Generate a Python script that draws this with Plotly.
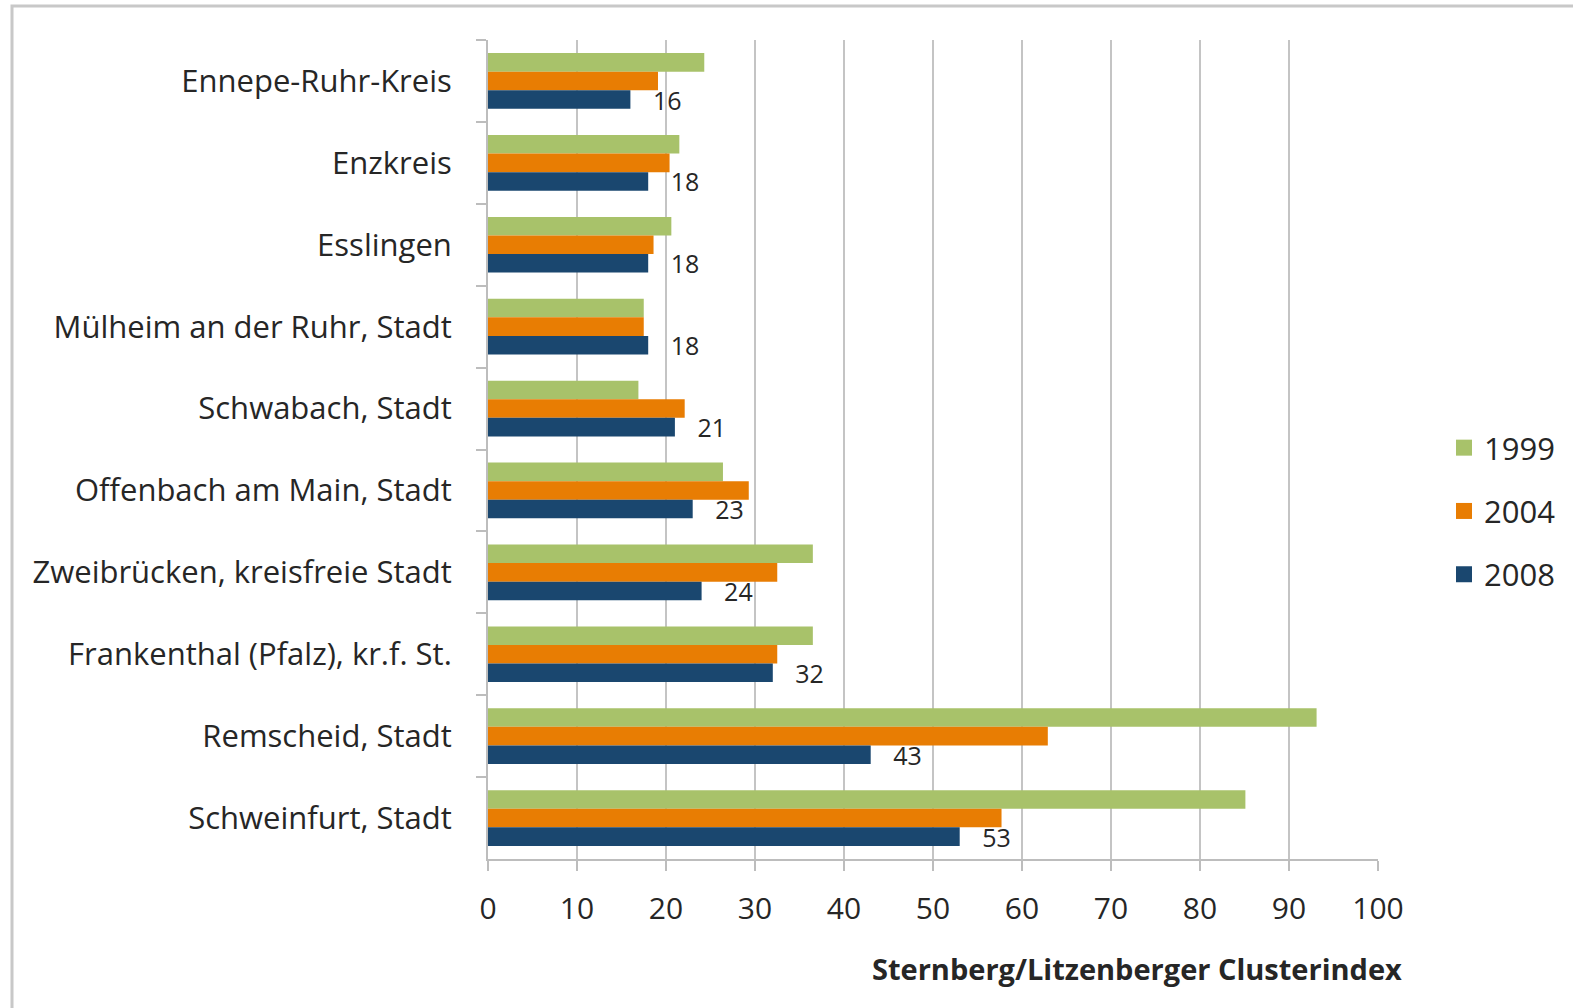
import plotly.graph_objects as go

# Regions (top to bottom) and Sternberg/Litzenberger cluster index per year
regions = [
    "Ennepe-Ruhr-Kreis",
    "Enzkreis",
    "Esslingen",
    "Mülheim an der Ruhr, Stadt",
    "Schwabach, Stadt",
    "Offenbach am Main, Stadt",
    "Zweibrücken, kreisfreie Stadt",
    "Frankenthal (Pfalz), kr.f. St.",
    "Remscheid, Stadt",
    "Schweinfurt, Stadt",
]
idx_1999 = [24.3, 21.5, 20.6, 17.5, 16.9, 26.4, 36.5, 36.5, 93.1, 85.1]
idx_2004 = [19.1, 20.4, 18.6, 17.5, 22.1, 29.3, 32.5, 32.5, 62.9, 57.7]
idx_2008 = [16, 18, 18, 18, 21, 23, 24, 32, 43, 53]

years = ["1999", "2004", "2008"]
colors = ["#A8C26A", "#E87D03", "#1A476F"]
x_ticks = list(range(0, 101, 10))

W, H = 1573, 1008
ML, MR, MT, MB = 488, 195, 40, 149
PW, PH = W - ML - MR, H - MT - MB


def px_x(p):
    return (p - ML) / PW


def px_y(p):
    return (H - MB - p) / PH


FONT = "'Open Sans', Lato, sans-serif"
TXT = "#262626"

fig = go.Figure()
for yr, vals, col in zip(years, [idx_1999, idx_2004, idx_2008], colors):
    bar = go.Bar(
        name=yr,
        y=regions,
        x=vals,
        orientation="h",
        marker=dict(color=col, line=dict(width=0)),
        legendgroup=yr,
        showlegend=False,
    )
    if yr == "2008":
        bar.update(
            text=[f"{v:g}" for v in vals],
            texttemplate="   %{text}",
            textposition="outside",
            constraintext="none",
            textfont=dict(family=FONT, size=25, color=TXT),
            cliponaxis=False,
        )
    fig.add_trace(bar)

# Legend entries with larger square swatches
for yr, col in zip(years, colors):
    fig.add_trace(
        go.Scatter(
            name=yr,
            x=[None],
            y=[None],
            mode="markers",
            marker=dict(symbol="square", size=19, color=col),
            legendgroup=yr,
            showlegend=True,
        )
    )

fig.update_layout(
    width=W,
    height=H,
    margin=dict(l=ML, r=MR, t=MT, b=MB),
    barmode="group",
    bargap=0.32,
    bargroupgap=0,
    plot_bgcolor="white",
    paper_bgcolor="white",
    font=dict(family=FONT, size=30, color=TXT),
    showlegend=True,
    legend=dict(
        x=px_x(1444),
        y=px_y(511),
        xanchor="left",
        yanchor="middle",
        traceorder="grouped",
        tracegroupgap=20,
        font=dict(family=FONT, size=31, color=TXT),
        itemwidth=30,
        bgcolor="rgba(0,0,0,0)",
    ),
    xaxis=dict(
        range=[0, 100],
        tickvals=x_ticks,
        ticktext=[str(v) for v in x_ticks],
        showgrid=True,
        gridcolor="#C4C4C4",
        gridwidth=2,
        zeroline=False,
        showline=True,
        linecolor="#BDBDBD",
        linewidth=2,
        ticks="outside",
        ticklen=10,
        tickwidth=2,
        tickcolor="#BDBDBD",
        ticklabelstandoff=12,
        tickfont=dict(family=FONT, size=30, color=TXT),
    ),
    yaxis=dict(
        autorange="reversed",
        type="category",
        showgrid=False,
        showline=True,
        linecolor="#BDBDBD",
        linewidth=2,
        ticks="outside",
        tickson="boundaries",
        ticklen=10,
        tickwidth=2,
        tickcolor="#BDBDBD",
        ticklabelstandoff=28,
        tickfont=dict(family=FONT, size=31, color=TXT),
    ),
)

# Axis title, right-aligned under the value axis
fig.add_annotation(
    text="<b>Sternberg/Litzenberger Clusterindex</b>",
    xref="paper",
    yref="paper",
    x=px_x(1404),
    y=px_y(968),
    xanchor="right",
    yanchor="middle",
    showarrow=False,
    font=dict(family=FONT, size=29, color=TXT),
)

# Chart frame
fig.add_shape(
    type="rect",
    xref="paper",
    yref="paper",
    x0=px_x(12),
    x1=px_x(1620),
    y0=px_y(1030),
    y1=px_y(6),
    line=dict(color="#C8C8C8", width=3),
    fillcolor="rgba(0,0,0,0)",
    layer="below",
)

fig.write_html("out.html")
